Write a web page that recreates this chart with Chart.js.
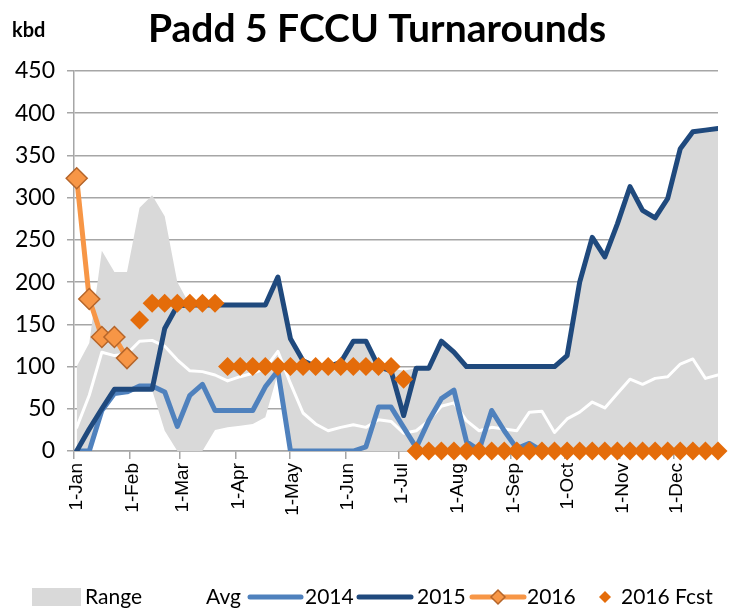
<!DOCTYPE html>
<html>
<head>
<meta charset="utf-8">
<title>Padd 5 FCCU Turnarounds</title>
<script src="https://cdn.jsdelivr.net/npm/chart.js@4.4.1/dist/chart.umd.min.js"></script>
<style>
    html, body { margin: 0; padding: 0; background: #fff; }
    #wrap { width: 730px; height: 609px; }
</style>
</head>
<body>
<div id="wrap"><canvas id="turnarounds-chart" width="730" height="609"></canvas></div>
<script>
/**
 * Padd 5 FCCU turnarounds, weekly kbd offline, with 5yr range and average
 */

const MONTH_LABELS = ['1-Jan', '1-Feb', '1-Mar', '1-Apr', '1-May', '1-Jun',
    '1-Jul', '1-Aug', '1-Sep', '1-Oct', '1-Nov', '1-Dec'];
const MONTH_START_DAYS = [0, 31, 59, 90, 120, 151, 181, 212, 243, 273, 304, 334];
const FIRST_WEEK_DAY = 1.5; // first weekly reading, days after 1-Jan
const Y_MAX = 450;
const Y_STEP = 50;

// weekly values, week 1 .. week 52
const rangeLow = [0, 0, 46, 66, 68, 72, 72, 24, 0, 0,
    0, 25, 28, 30, 32, 40, 92, 0, 0, 0,
    0, 0, 0, 0, 0, 0, 0, 0, 0, 0,
    0, 0, 0, 0, 0, 0, 0, 0, 0, 0,
    0, 0, 0, 0, 0, 0, 0, 0, 0, 0,
    0, 0];
const rangeHigh = [100, 128, 237, 212, 212, 288, 303, 278, 200, 173,
    173, 173, 173, 173, 173, 173, 206, 133, 107, 100,
    100, 105, 130, 130, 100, 98, 95, 98, 98, 130,
    117, 100, 100, 100, 100, 100, 102, 102, 100, 113,
    200, 253, 230, 269, 313, 285, 276, 299, 358, 378,
    380, 382];
const avg = [28, 66, 117, 113, 115, 130, 131, 124, 108, 95,
    94, 90, 83, 88, 92, 98, 118, 80, 45, 32,
    24, 28, 31, 28, 37, 35, 21, 24, 36, 53,
    57, 36, 24, 28, 26, 24, 46, 47, 22, 38,
    46, 58, 51, 68, 85, 79, 86, 88, 103, 109,
    86, 90];
const y2014 = [0, 0, 48, 68, 70, 77, 77, 70, 29, 66,
    79, 48, 48, 48, 48, 76, 95, 0, 0, 0,
    0, 0, 0, 5, 52, 52, 28, 4, 36, 62,
    72, 11, 1, 48, 24, 3, 9, 0, 0, 0,
    0, 0, 0, 0, 0, 0, 0, 0, 0, 0,
    0, 0];
const y2015 = [0, 26, 50, 73, 73, 73, 73, 145, 172, 173,
    173, 173, 173, 173, 173, 173, 206, 133, 107, 100,
    100, 105, 130, 130, 100, 95, 42, 98, 98, 130,
    117, 100, 100, 100, 100, 100, 100, 100, 100, 113,
    200, 253, 230, 269, 313, 285, 276, 299, 358, 378,
    380, 382];
const y2016 = [323, 180, 135, 135, 110, null, null, null, null, null,
    null, null, null, null, null, null, null, null, null, null,
    null, null, null, null, null, null, null, null, null, null,
    null, null, null, null, null, null, null, null, null, null,
    null, null, null, null, null, null, null, null, null, null,
    null, null];
const fcst2016 = [null, null, null, null, null, 155, 175, 175, 175, 175,
    175, 175, 100, 100, 100, 100, 100, 100, 100, 100,
    100, 100, 100, 100, 100, 100, 85, 0, 0, 0,
    0, 0, 0, 0, 0, 0, 0, 0, 0, 0,
    0, 0, 0, 0, 0, 0, 0, 0, 0, 0,
    0, 0];

const COLORS = {
    range: '#d9d9d9',
    avg: '#ffffff',
    y2014: '#4f81bd',
    y2015: '#1f497d',
    y2016: '#f79646',
    y2016Edge: '#b5652a',
    fcst: '#e46c0a',
    grid: '#a6a6a6',
    text: '#000000'
};

const FONT_SANS = 'Lato, "Open Sans", sans-serif';
const FONT_TICKS_X = '"Liberation Sans", Arial, sans-serif';

// pair each weekly value with its day of the year
function toPoints(values) {
    return values.map((v, i) => ({ x: FIRST_WEEK_DAY + 7 * i, y: v }));
}

function lineSeries(label, values, color, width) {
    return {
        label: label,
        data: toPoints(values),
        borderColor: color,
        backgroundColor: color,
        borderWidth: width,
        pointRadius: 0,
        pointHoverRadius: 0,
        tension: 0,
        fill: false,
        borderJoinStyle: 'round',
        borderCapStyle: 'round',
        spanGaps: false
    };
}

function drawDiamond(ctx, x, y, r, fill, stroke) {
    ctx.beginPath();
    ctx.moveTo(x - r, y);
    ctx.lineTo(x, y - r);
    ctx.lineTo(x + r, y);
    ctx.lineTo(x, y + r);
    ctx.closePath();
    ctx.fillStyle = fill;
    ctx.fill();
    if (stroke) {
        ctx.lineWidth = 1.5;
        ctx.strokeStyle = stroke;
        ctx.stroke();
    }
}

// title and unit label above the plot
const headerPlugin = {
    id: 'header',
    afterDraw(chart) {
        const ctx = chart.ctx;
        ctx.save();
        ctx.fillStyle = COLORS.text;
        ctx.textBaseline = 'alphabetic';
        ctx.textAlign = 'center';
        ctx.font = 'bold 39px ' + FONT_SANS;
        ctx.fillText('Padd 5 FCCU Turnarounds', 377, 42);
        ctx.textAlign = 'left';
        ctx.font = 'bold 20px ' + FONT_SANS;
        ctx.fillText('kbd', 12, 37);
        ctx.restore();
    }
};

// legend row laid out like the spreadsheet original
const legendPlugin = {
    id: 'bottomLegend',
    afterDraw(chart) {
        const ctx = chart.ctx;
        const y = 597;
        ctx.save();
        ctx.font = '21px ' + FONT_SANS;
        ctx.textBaseline = 'middle';
        ctx.textAlign = 'left';

        ctx.fillStyle = COLORS.range;
        ctx.fillRect(32, 588, 49, 18);

        const lines = [
            { x0: 150, x1: 200, color: COLORS.avg },
            { x0: 250, x1: 301, color: COLORS.y2014 },
            { x0: 359, x1: 411, color: COLORS.y2015 },
            { x0: 472, x1: 524, color: COLORS.y2016 }
        ];
        ctx.lineWidth = 5;
        ctx.lineCap = 'round';
        lines.forEach(l => {
            ctx.strokeStyle = l.color;
            ctx.beginPath();
            ctx.moveTo(l.x0, y);
            ctx.lineTo(l.x1, y);
            ctx.stroke();
        });
        drawDiamond(ctx, 498, y, 7, COLORS.y2016, COLORS.y2016Edge);
        drawDiamond(ctx, 605, y, 6, COLORS.fcst, null);

        const texts = [
            ['Range', 85], ['Avg', 206], ['2014', 305],
            ['2015', 417], ['2016', 527], ['2016 Fcst', 621]
        ];
        ctx.fillStyle = COLORS.text;
        texts.forEach(([t, x]) => ctx.fillText(t, x, y));
        ctx.restore();
    }
};

document.addEventListener('DOMContentLoaded', function() {
    const ctx = document.getElementById('turnarounds-chart').getContext('2d');

    // first dataset is drawn on top
    const datasets = [
        {
            label: '2016 Fcst',
            data: toPoints(fcst2016),
            showLine: false,
            pointStyle: 'rectRot',
            pointRadius: 9.5,
            pointHoverRadius: 9.5,
            pointBackgroundColor: COLORS.fcst,
            pointBorderWidth: 0,
            borderColor: COLORS.fcst,
            backgroundColor: COLORS.fcst,
            fill: false,
            clip: false
        },
        Object.assign(lineSeries('2016', y2016, COLORS.y2016, 5), {
            pointStyle: 'rectRot',
            pointRadius: 10.5,
            pointHoverRadius: 10.5,
            pointBackgroundColor: COLORS.y2016,
            pointBorderColor: COLORS.y2016Edge,
            pointBorderWidth: 1.5,
            clip: false
        }),
        lineSeries('2015', y2015, COLORS.y2015, 5),
        lineSeries('2014', y2014, COLORS.y2014, 5),
        lineSeries('Avg', avg, COLORS.avg, 3),
        {
            label: 'Range',
            data: toPoints(rangeHigh),
            borderWidth: 0,
            borderColor: 'rgba(0,0,0,0)',
            backgroundColor: COLORS.range,
            pointRadius: 0,
            tension: 0,
            fill: '+1'
        },
        {
            label: 'Range low',
            data: toPoints(rangeLow),
            borderWidth: 0,
            borderColor: 'rgba(0,0,0,0)',
            backgroundColor: 'rgba(0,0,0,0)',
            pointRadius: 0,
            tension: 0,
            fill: false
        }
    ];

    new Chart(ctx, {
        type: 'line',
        data: { datasets: datasets },
        options: {
            responsive: false,
            animation: false,
            devicePixelRatio: 1,
            layout: {
                padding: { top: 71, right: 7, bottom: 68, left: 0 }
            },
            plugins: {
                legend: { display: false },
                title: { display: false },
                tooltip: { enabled: false }
            },
            scales: {
                x: {
                    type: 'linear',
                    min: 0,
                    max: FIRST_WEEK_DAY + 7 * (y2015.length - 1),
                    afterBuildTicks: function(scale) {
                        scale.ticks = MONTH_START_DAYS.map(d => ({ value: d }));
                    },
                    afterFit: function(scale) {
                        scale.height = 90;
                    },
                    ticks: {
                        autoSkip: false,
                        minRotation: 90,
                        maxRotation: 90,
                        padding: 4,
                        labelOffset: 3,
                        color: COLORS.text,
                        font: { family: FONT_TICKS_X, size: 19 },
                        callback: function(value) {
                            const i = MONTH_START_DAYS.indexOf(value);
                            return i >= 0 ? MONTH_LABELS[i] : '';
                        }
                    },
                    grid: {
                        drawOnChartArea: false,
                        drawTicks: true,
                        tickLength: 8,
                        color: COLORS.grid,
                        lineWidth: 1.5
                    },
                    border: { display: true, color: COLORS.grid, width: 1.5 }
                },
                y: {
                    min: 0,
                    max: Y_MAX,
                    afterFit: function(scale) {
                        scale.width = 74;
                    },
                    ticks: {
                        stepSize: Y_STEP,
                        padding: 12,
                        color: COLORS.text,
                        font: { family: FONT_SANS, size: 23 }
                    },
                    grid: {
                        color: COLORS.grid,
                        lineWidth: 1.5,
                        tickLength: 7
                    },
                    border: { display: true, color: COLORS.grid, width: 1.5 }
                }
            }
        },
        plugins: [headerPlugin, legendPlugin]
    });
});
</script>
</body>
</html>
